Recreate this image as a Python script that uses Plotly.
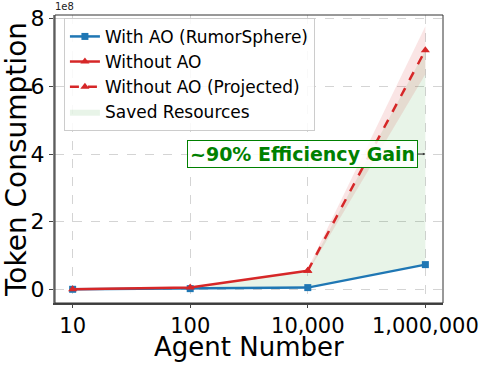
import plotly.graph_objects as go

# Daten
agent_labels = ["10", "100", "10,000", "1,000,000"]
with_ao = [0.0, 0.2e7, 0.5e7, 7.3e7]
without_ao = [0.0, 0.5e7, 5.5e7]
projected = [5.5e7, 70.7e7]
proj_upper = [6.05e7, 77.8e7]
proj_lower = [4.95e7, 63.6e7]
saved_upper = [0.0, 0.5e7, 5.5e7, 70.7e7]

x_all = list(range(len(agent_labels)))
x_real = x_all[:3]
x_proj = x_all[2:]

BLUE = "#1f77b4"
RED = "#d62728"
GREEN = "#008000"
FONT = "DejaVu Sans"

fig = go.Figure()

# Gesparte Ressourcen (Fläche zwischen den Kurven)
fig.add_trace(go.Scatter(x=x_all, y=with_ao, mode="lines", line=dict(width=0),
                         showlegend=False, hoverinfo="skip"))
fig.add_trace(go.Scatter(x=x_all, y=saved_upper, mode="lines", line=dict(width=0),
                         fill="tonexty", fillcolor="rgba(0,128,0,0.09)",
                         name="Saved Resources", legendrank=4))

# Unsicherheitsband der Projektion
fig.add_trace(go.Scatter(x=x_proj, y=proj_lower, mode="lines", line=dict(width=0),
                         showlegend=False, hoverinfo="skip"))
fig.add_trace(go.Scatter(x=x_proj, y=proj_upper, mode="lines", line=dict(width=0),
                         fill="tonexty", fillcolor="rgba(214,39,40,0.12)",
                         showlegend=False, hoverinfo="skip"))

# Linien
fig.add_trace(go.Scatter(x=x_all, y=with_ao, mode="lines+markers", name="With AO (RumorSphere)",
                         line=dict(color=BLUE, width=2.5),
                         marker=dict(symbol="square", size=7, color=BLUE), legendrank=1))
fig.add_trace(go.Scatter(x=x_real, y=without_ao, mode="lines+markers", name="Without AO",
                         line=dict(color=RED, width=2.5),
                         marker=dict(symbol="triangle-up", size=8, color=RED), legendrank=2))
fig.add_trace(go.Scatter(x=x_proj, y=projected, mode="lines+markers", name="Without AO (Projected)",
                         line=dict(color=RED, width=2.5, dash="dash"),
                         marker=dict(symbol="triangle-up", size=8, color=RED), legendrank=3))

# Annotation
fig.add_annotation(x=3, y=4e8, xref="x", yref="y", text="<b>~90% Efficiency Gain</b>",
                   showarrow=True, ax=-123, ay=0, arrowhead=2, arrowsize=0.5, arrowwidth=1,
                   arrowcolor="#333", font=dict(family=FONT, size=19, color=GREEN),
                   bgcolor="rgba(255,255,255,0.85)", bordercolor=GREEN, borderwidth=1, borderpad=2)
fig.add_annotation(x=0, y=1, xref="paper", yref="paper", text="1e8", showarrow=False,
                   xanchor="left", yanchor="bottom", xshift=-2, yshift=1,
                   font=dict(family=FONT, size=10, color="#222"))
# x-Achsentitel
fig.add_annotation(x=0.5, y=-0.153, xref="paper", yref="paper", text="Agent Number",
                   showarrow=False, xanchor="center", yanchor="middle",
                   font=dict(family=FONT, size=26, color="black"))

# Rahmen
fig.add_shape(type="rect", xref="paper", yref="paper", x0=0, x1=1, y0=0, y1=1,
              line=dict(color="#333", width=1), layer="above")

fig.update_layout(
    width=489, height=365,
    margin=dict(l=55, r=46, t=15, b=62),
    paper_bgcolor="white", plot_bgcolor="white",
    font=dict(family=FONT, color="black"),
    legend=dict(x=0.023, y=0.99, xanchor="left", yanchor="top", traceorder="normal",
                bgcolor="rgba(255,255,255,0.85)", bordercolor="#cccccc", borderwidth=1,
                font=dict(family=FONT, size=17), tracegroupgap=0),
    xaxis=dict(tickmode="array", tickvals=x_all, ticktext=agent_labels,
               range=[-0.15, 3.15], tickfont=dict(size=21),
               showgrid=True, gridcolor="#d4d4d4", griddash="dash", gridwidth=1,
               showline=True, linecolor="#444", linewidth=1.5,
               ticks="outside", ticklen=3, tickcolor="#444", zeroline=False, automargin=False),
    yaxis=dict(tickmode="array", tickvals=[0, 2e8, 4e8, 6e8, 8e8], ticktext=["0", "2", "4", "6", "8"],
               range=[-0.405e8, 8.11e8], tickfont=dict(size=22),
               title=dict(text="Token Consumption", font=dict(size=28), standoff=0),
               showgrid=True, gridcolor="#d4d4d4", griddash="dash", gridwidth=1,
               showline=True, linecolor="#888", linewidth=2,
               ticks="outside", ticklen=4, tickcolor="#444", zeroline=False, automargin=False),
)

# Seitenrand im Browser entfernen
fig.write_html("out.html", config={"displayModeBar": False},
               post_script="document.body.style.margin='0';")
